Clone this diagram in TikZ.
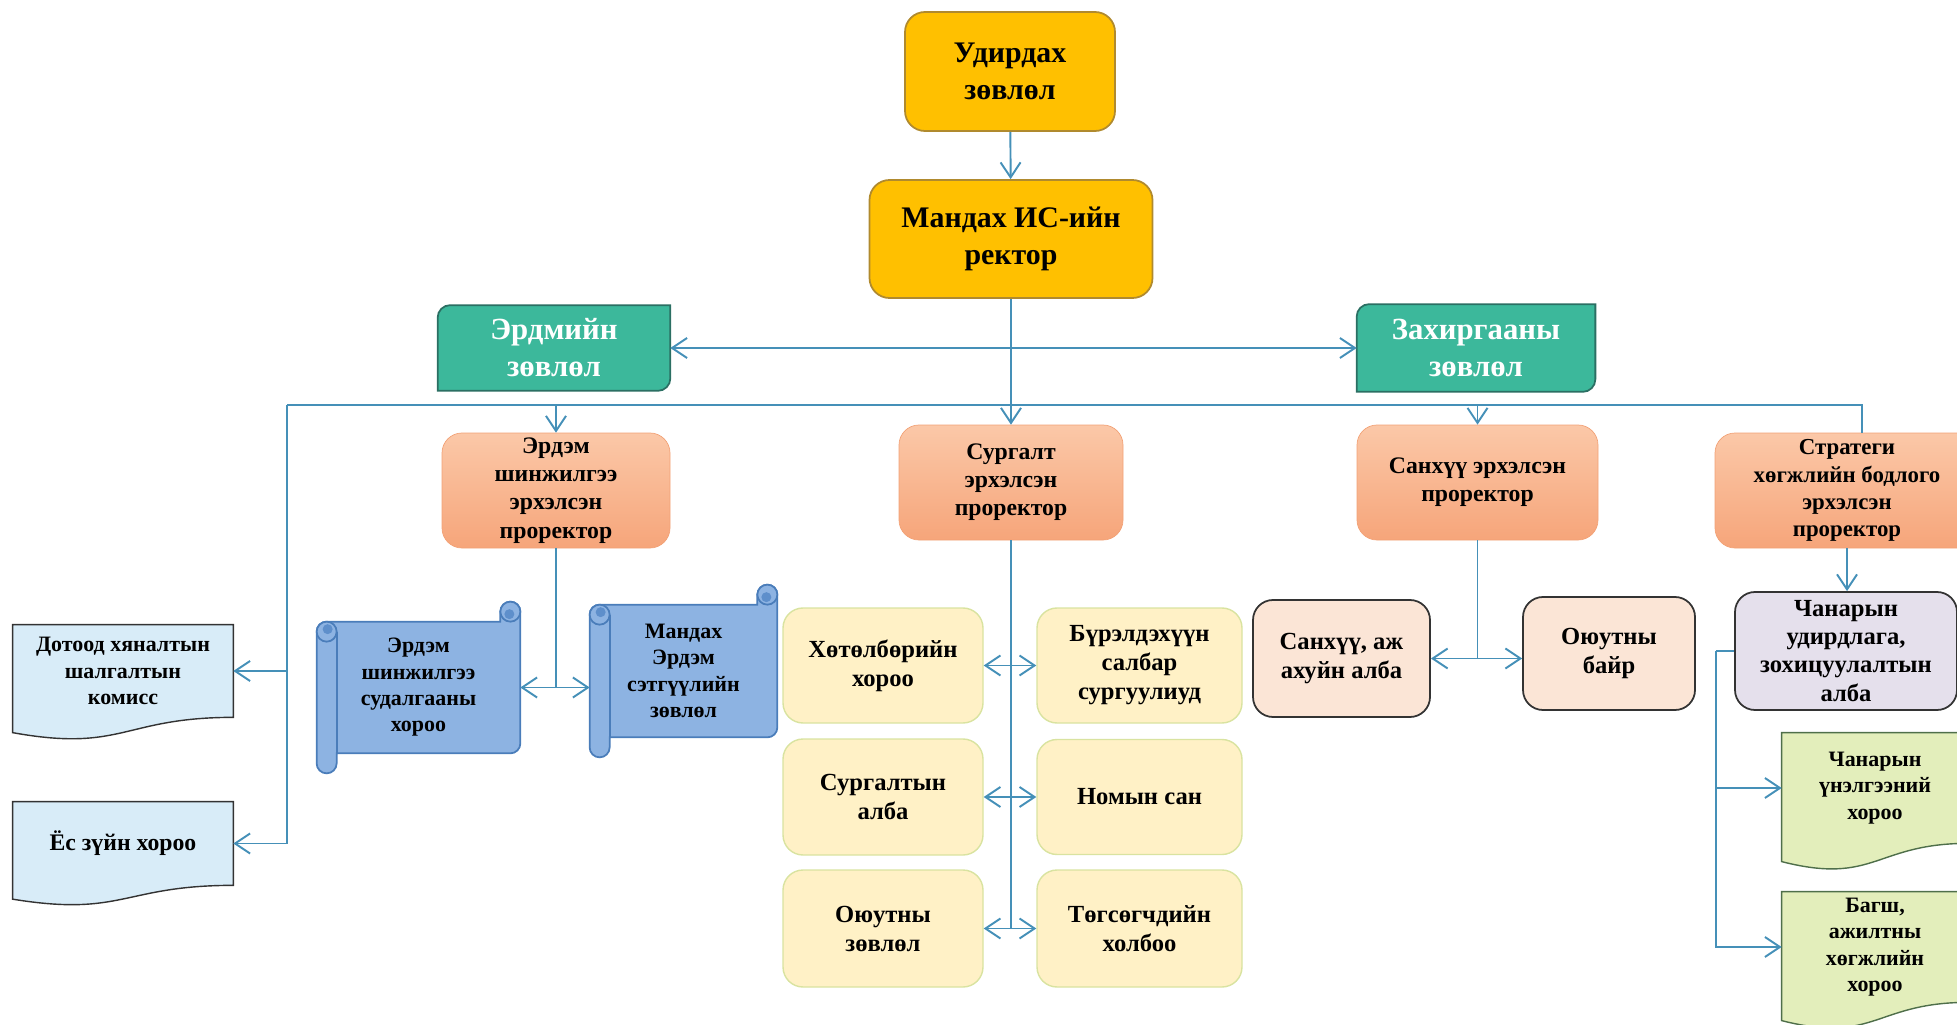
\documentclass[tikz,border=0pt]{standalone}
\usepackage{fontspec}
\setmainfont{Liberation Serif}
\usetikzlibrary{calc,positioning,arrows.meta,backgrounds}

\definecolor{linkblue}{HTML}{4590B8}
\definecolor{goldfill}{HTML}{FFC000}
\definecolor{golddraw}{HTML}{B08A2E}
\definecolor{tealfill}{HTML}{3CB89B}
\definecolor{tealdraw}{HTML}{2B6F63}
\definecolor{peachtop}{HTML}{FBC8A8}
\definecolor{peachbot}{HTML}{F6A57A}
\definecolor{peachdraw}{HTML}{F2A277}
\definecolor{creamfill}{HTML}{FFF1C6}
\definecolor{creamdraw}{HTML}{D9E3A0}
\definecolor{scrollfill}{HTML}{8DB3E2}
\definecolor{scrolldraw}{HTML}{4A7DBA}
\definecolor{scrolldark}{HTML}{5E8FCB}
\definecolor{skyfill}{HTML}{D8ECF8}
\definecolor{limefill}{HTML}{E3EEBB}
\definecolor{limedraw}{HTML}{4F6F4A}
\definecolor{lilacfill}{HTML}{E5E0EC}
\definecolor{sandfill}{HTML}{FBE5D6}
\definecolor{edgegray}{HTML}{333333}

\tikzset{
  box/.style={align=center, inner sep=2pt},
  board/.style={box, rounded corners=0.4cm, draw=golddraw, line width=1pt, fill=goldfill, font=\fontsize{17}{21}\selectfont\bfseries},
  council/.style={box, text=white, font=\fontsize{17.5}{21}\selectfont\bfseries},
  prorector/.style={box, rounded corners=0.4cm, draw=peachdraw, top color=peachtop, bottom color=peachbot, font=\fontsize{13.5}{16}\selectfont\bfseries},
  unit/.style={box, rounded corners=0.4cm, draw=creamdraw, line width=0.8pt, fill=creamfill, font=\fontsize{14}{16.5}\selectfont\bfseries},
  office/.style={box, rounded corners=0.4cm, draw=edgegray, line width=1pt, font=\fontsize{14}{16}\selectfont\bfseries},
  paper/.style={box, font=\fontsize{12.5}{15}\selectfont\bfseries},
  tealpart/.style={fill=tealfill, draw=tealdraw, line width=1pt},
  scrollpart/.style={fill=scrollfill, draw=scrolldraw, line width=1pt},
  skydoc/.style={fill=skyfill, draw=edgegray, line width=0.8pt},
  limedoc/.style={fill=limefill, draw=limedraw, line width=0.8pt},
  link/.style={draw=linkblue, line width=1.1pt},
  >={Straight Barb[length=3mm,width=4mm]}
}

\newcommand{\tealshape}[1]{%
  \filldraw[tealpart] (#1.south west) -- ($(#1.north west)+(0,-0.25)$) arc[start angle=180,end angle=90,radius=0.25]
    -- (#1.north east) -- ($(#1.south east)+(0,0.25)$) arc[start angle=0,end angle=-90,radius=0.25] -- cycle;}

\newcommand{\docshape}[2]{%
  \filldraw[#2] (#1.north west) -- (#1.north east) -- (#1.south east)
    .. controls (#1.south) and ($(#1.north)!1.38!(#1.south)$) .. ($(#1.north west)!1.165!(#1.south west)$) -- cycle;}

\newcommand{\scrollshape}[1]{%
  \filldraw[scrollpart] ($(#1.north west)+(0,-0.6)$) arc[start angle=180,end angle=90,radius=0.2]
    -- ($(#1.north east)+(-0.4,-0.4)$) -- ++(0,0.2) arc[start angle=180,end angle=0,radius=0.2]
    -- ($(#1.south east)+(0,0.6)$) arc[start angle=0,end angle=-90,radius=0.2]
    -- ($(#1.south west)+(0.4,0.4)$) -- ++(0,-0.2) arc[start angle=0,end angle=-180,radius=0.2]
    -- cycle;
  \draw[scrollpart] ($(#1.north west)+(0.2,-0.6)$) circle[radius=0.2];
  \draw[scrollpart] ($(#1.north west)+(0.4,-0.6)$) -- ($(#1.south west)+(0.4,0.4)$);
  \draw[scrollpart] ($(#1.north east)+(-0.2,-0.2)$) circle[radius=0.2];
  \fill[scrolldark] ($(#1.north west)+(0.22,-0.55)$) circle[radius=0.1];
  \fill[scrolldark] ($(#1.north east)+(-0.22,-0.25)$) circle[radius=0.1];}

\begin{document}
\begin{tikzpicture}
\useasboundingbox (0,0) rectangle (39.14,20.48);
\node[board, minimum width=4.2cm, minimum height=2.38cm] (udirdah) at (20.2,19.05) {Удирдах\\зөвлөл};
\node[board, minimum width=5.66cm, minimum height=2.36cm] (rektor) at (20.22,15.7) {Мандах ИС-ийн\\ректор};
\node[council, minimum width=4.64cm, minimum height=1.7cm] (erdmiin) at (11.08,13.52) {Эрдмийн\\зөвлөл};
\node[council, minimum width=4.76cm, minimum height=1.74cm] (zahirgaa) at (29.52,13.52) {Захиргааны\\зөвлөл};
\node[prorector, minimum width=4.56cm, minimum height=2.3cm] (erdempro) at (11.12,10.67) {Эрдэм\\шинжилгээ\\эрхэлсэн\\проректор};
\node[prorector, minimum width=4.48cm, minimum height=2.3cm] (surgaltpro) at (20.22,10.83) {Сургалт\\эрхэлсэн\\проректор};
\node[prorector, minimum width=4.82cm, minimum height=2.3cm] (sanhuupro) at (29.55,10.83) {Санхүү эрхэлсэн\\проректор};
\node[prorector, minimum width=5.28cm, minimum height=2.3cm, font=\fontsize{13}{15.5}\selectfont\bfseries] (strategpro) at (36.94,10.67) {Стратеги\\хөгжлийн бодлого\\эрхэлсэн\\проректор};
\node[office, fill=lilacfill, minimum width=4.44cm, minimum height=2.36cm] (chanar) at (36.92,7.46) {Чанарын\\удирдлага,\\зохицуулалтын\\алба};
\node[paper, minimum width=3.72cm, minimum height=2.2cm] (unelgee) at (37.5,4.72) {Чанарын\\үнэлгээний\\хороо};
\node[paper, minimum width=3.72cm, minimum height=2.2cm] (bagsh) at (37.5,1.54) {Багш,\\ажилтны\\хөгжлийн\\хороо};
\node[paper, minimum width=4.4cm, minimum height=1.84cm] (dotood) at (2.46,7.06) {Дотоод хяналтын\\шалгалтын\\комисс};
\node[paper, minimum width=4.4cm, minimum height=1.66cm, font=\fontsize{13.5}{16}\selectfont\bfseries] (yos) at (2.46,3.61) {Ёс зүйн хороо};
\node[paper, minimum width=4.06cm, minimum height=3.42cm] (scrollA) at (8.37,6.73) {Эрдэм\\шинжилгээ\\судалгааны\\хороо};
\node[paper, minimum width=3.74cm, minimum height=3.44cm] (scrollB) at (13.67,7.06) {Мандах\\Эрдэм\\сэтгүүлийн\\зөвлөл};
\node[unit, minimum width=4cm, minimum height=2.3cm] (hotolbor) at (17.66,7.17) {Хөтөлбөрийн\\хороо};
\node[unit, minimum width=4.1cm, minimum height=2.3cm] (burel) at (22.79,7.17) {Бүрэлдэхүүн\\салбар\\сургуулиуд};
\node[unit, minimum width=4cm, minimum height=2.32cm] (surgaltalba) at (17.66,4.54) {Сургалтын\\алба};
\node[unit, minimum width=4.1cm, minimum height=2.3cm] (nomyn) at (22.79,4.54) {Номын сан};
\node[unit, minimum width=4cm, minimum height=2.34cm] (oyutzov) at (17.66,1.91) {Оюутны\\зөвлөл};
\node[unit, minimum width=4.1cm, minimum height=2.34cm] (togsogch) at (22.79,1.91) {Төгсөгчдийн\\холбоо};
\node[office, fill=sandfill, minimum width=3.54cm, minimum height=2.34cm] (sanhuualba) at (26.83,7.31) {Санхүү, аж\\ахуйн алба};
\node[office, fill=sandfill, minimum width=3.44cm, minimum height=2.26cm] (oyutbair) at (32.18,7.41) {Оюутны\\байр};
\begin{scope}[on background layer]
\tealshape{erdmiin}
\tealshape{zahirgaa}
\docshape{dotood}{skydoc}
\docshape{yos}{skydoc}
\docshape{unelgee}{limedoc}
\docshape{bagsh}{limedoc}
\scrollshape{scrollA}
\scrollshape{scrollB}
\end{scope}
\coordinate (busW) at (5.74,12.38);
\coordinate (busE) at (37.24,12.38);
\coordinate (qual) at ($(chanar.west)+(-0.36,0)$);
\draw[link,->] (udirdah) -- (rektor);
\draw[link,<->] (erdmiin) -- (zahirgaa);
\draw[link,->] (rektor.south) -- (surgaltpro.north);
\draw[link] (busW) -- (busE) -- (busE |- strategpro.north);
\draw[link,->] (busW) |- (dotood.east);
\draw[link,->] (busW) |- (yos.east);
\draw[link,->] (erdempro.north |- busW) -- (erdempro.north);
\draw[link,->] (sanhuupro.north |- busW) -- (sanhuupro.north);
\draw[link] (erdempro.south) -- (erdempro.south |- scrollA.east);
\draw[link,<->] (scrollA.east) -- (scrollA.east -| scrollB.west);
\draw[link] (surgaltpro.south) -- (surgaltpro.south |- oyutzov.east);
\draw[link,<->] (hotolbor) -- (burel);
\draw[link,<->] (surgaltalba) -- (nomyn);
\draw[link,<->] (oyutzov) -- (togsogch);
\draw[link] (sanhuupro.south) -- (sanhuupro.south |- sanhuualba.east);
\draw[link,<->] (sanhuualba.east) -- (sanhuualba.east -| oyutbair.west);
\draw[link,->] (strategpro.south) -- (strategpro.south |- chanar.north);
\draw[link] (chanar.west) -- (qual);
\draw[link,->] (qual) |- (unelgee.west);
\draw[link,->] (qual) |- (bagsh.west);
\end{tikzpicture}
\end{document}
